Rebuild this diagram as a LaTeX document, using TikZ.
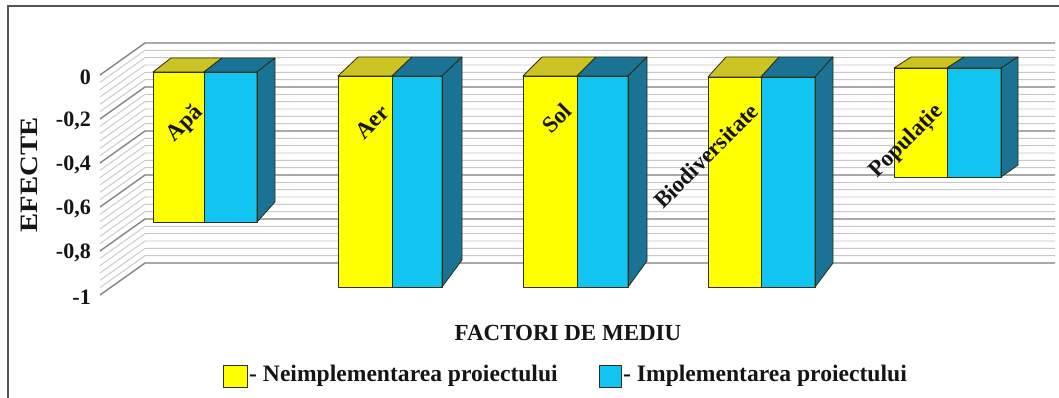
\documentclass[tikz,border=0pt]{standalone}
\usepackage{fontspec}
\setmainfont{Liberation Serif}[BoldFont={Liberation Serif Bold}]
\newfontfamily\chartfont{Liberation Serif Bold}
\definecolor{yel}{HTML}{FFFF00}
\definecolor{yeltop}{HTML}{CCC425}
\definecolor{cyanc}{HTML}{12C4F2}
\definecolor{tealc}{HTML}{1A7394}
\definecolor{outl}{HTML}{2E2E10}
\definecolor{minorg}{HTML}{C8C8C8}
\definecolor{majorg}{HTML}{888888}
\definecolor{framec}{HTML}{555555}
\definecolor{txt}{HTML}{151515}
\tikzset{
  lab/.style={font=\chartfont\fontsize{23}{23}\selectfont, inner sep=0pt, text=txt},
  leglab/.style={font=\chartfont\fontsize{23.6}{24}\selectfont, inner sep=0pt, text=txt, anchor=west},
  ticklab/.style={font=\chartfont\fontsize{22}{22}\selectfont, inner sep=0pt, anchor=east, text=txt},
  barlab/.style={lab, rotate=45},
  barline/.style={draw=outl, line width=0.8pt, line join=round},
}
\begin{document}
\begin{tikzpicture}[x={(1pt,0)}, y={(0,-1pt)}]
\useasboundingbox (0,0) rectangle (1059,398);
\fill[white] (0,0) rectangle (1059,398);
% frame
\draw[framec, line width=2pt] (8,398) -- (8,6) -- (1059,6);
% grid: minor lines
\foreach \i in {0,...,30}{
  \pgfmathsetmacro\yf{75+\i*220/30}
  \pgfmathsetmacro\yb{\yf-32}
  \draw[minorg, line width=0.9pt] (100,\yf) -- (145,\yb) -- (1055,\yb);
}
\foreach \i in {0,...,5}{
  \pgfmathsetmacro\yf{75+\i*44}
  \pgfmathsetmacro\yb{\yf-32}
  \draw[majorg, line width=1.4pt] (100,\yf) -- (145,\yb) -- (1055,\yb);
}
% tick labels
\node[ticklab] (t0) at (91,77) {0};
\node[ticklab] (t1) at (91,121) {-0,2};
\node[ticklab] (t2) at (91,165) {-0,4};
\node[ticklab] (t3) at (91,209) {-0,6};
\node[ticklab] (t4) at (91,253) {-0,8};
\node[ticklab] (t5) at (91,297) {-1};
% axis title
\node[lab, rotate=90, font=\chartfont\fontsize{25}{25}\selectfont, xscale=1.15] (efecte) at (29,175) {EFECTE};
% bars
\foreach \xa/\xb/\xc/\yt/\yb/\dx/\dt/\db in {
  153/204/257/72/222/18/14/20,
  338/392/442/76/287/20/19/27,
  523/577/628/76/287/19/19/26,
  708/761/815/77/287/18/20/24,
  894/947/1001/68/177/17/11/12}{
  \fill[yel] (\xa,\yt) rectangle (\xb,\yb);
  \fill[cyanc] (\xb,\yt) rectangle (\xc,\yb);
  \filldraw[barline, fill=yeltop] (\xa,\yt) -- ({\xa+\dx},{\yt-\dt}) -- ({\xb+\dx},{\yt-\dt}) -- (\xb,\yt) -- cycle;
  \filldraw[barline, fill=tealc] (\xb,\yt) -- ({\xb+\dx},{\yt-\dt}) -- ({\xc+\dx},{\yt-\dt}) -- (\xc,\yt) -- cycle;
  \filldraw[barline, fill=tealc] (\xc,\yt) -- ({\xc+\dx},{\yt-\dt}) -- ({\xc+\dx},{\yb-\db}) -- (\xc,\yb) -- cycle;
  \draw[barline] (\xa,\yt) rectangle (\xb,\yb);
  \draw[barline] (\xb,\yt) rectangle (\xc,\yb);
}
% bar labels
\node[barlab] (apa) at (185,124) {Apă};
\node[barlab] (aer) at (372,122) {Aer};
\node[barlab] (sol) at (557,118) {Sol};
\node[barlab] (bio) at (706,156) {Biodiversitate};
\node[barlab] (pop) at (907,142) {Populație};
% x axis title
\node[lab] (factori) at (568,333) {FACTORI DE MEDIU};
% legend
\filldraw[barline, fill=yel] (223,365) rectangle (247,387);
\node[leglab] (leg1) at (249,376) {- Neimplementarea proiectului};
\filldraw[barline, fill=cyanc] (599,365) rectangle (621,387);
\node[leglab] (leg2) at (623,376) {- Implementarea proiectului};
\end{tikzpicture}
\end{document}
